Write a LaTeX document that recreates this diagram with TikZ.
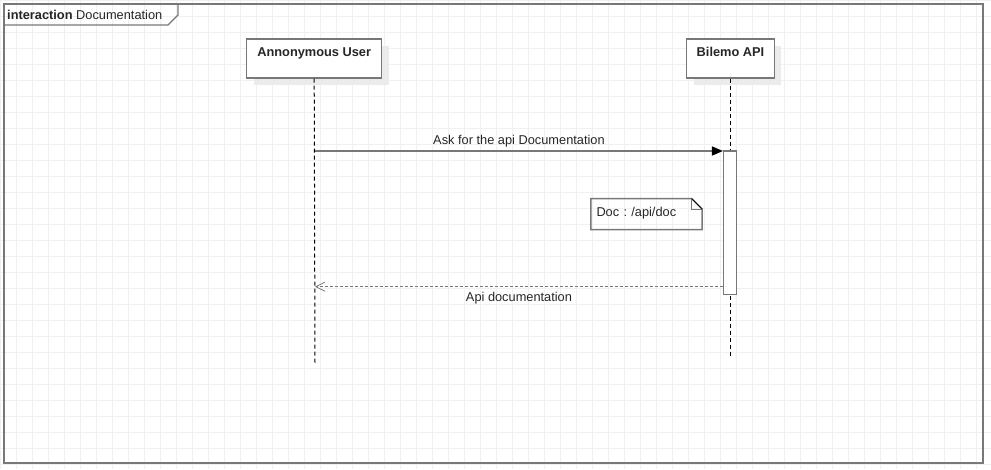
\documentclass[tikz,border=0pt]{standalone}
\usepackage{fontspec}
\setmainfont{Liberation Sans}
\usepackage{tikz}
\usetikzlibrary{positioning, backgrounds, arrows.meta, shadows}
\definecolor{umlgray}{HTML}{787878}
\definecolor{gridgray}{HTML}{F0F0F0}
\definecolor{shadowgray}{HTML}{EBEBEB}
\frenchspacing
\tikzstyle{lifebox} = [rectangle, draw=umlgray, line width=1.5pt, fill=white,
                 font=\fontsize{12.8}{15}\selectfont\bfseries,
                 text height=16pt, text depth=19pt, inner ysep=2pt,
                 drop shadow={shadow xshift=7pt, shadow yshift=-7pt, fill=shadowgray, opacity=1}]
\tikzstyle{lifeline} = [draw=black, line width=1pt, dash pattern=on 4pt off 3pt]
\tikzset{
	gridline/.style={draw=gridgray, line width=1pt},
	frameline/.style={draw=umlgray, line width=1.8pt},
	activation/.style={rectangle, draw=umlgray, line width=1.5pt, fill=white,
		minimum width=13pt, minimum height=143.3pt, inner sep=0pt},
	notebox/.style={text width=100pt, align=left, inner xsep=5.5pt,
		minimum height=30.6pt, text depth=4.5pt},
	noteline/.style={draw=umlgray, line width=1.5pt, line join=miter},
	call/.style={draw=umlgray, line width=1.5pt,
		-{Triangle[length=11pt, width=9pt, color=black, fill=black]}},
	reply/.style={draw=umlgray, line width=1.3pt, dash pattern=on 3pt off 2pt,
		-{Straight Barb[length=9pt, width=9pt, line width=0.8pt]}},
}

\begin{document}
\begin{tikzpicture}[x=1pt, y=-1pt,
	every node/.style={text=black!85, font=\fontsize{12.8}{15}\selectfont}]

\useasboundingbox (0,0) rectangle (991,469);
\fill [white] (0,0) rectangle (991,469);

	%grid
\foreach \gx in {0,16,...,976}
	\draw [gridline] (\gx,0) -- (\gx,469);
\foreach \gy in {0,16,...,464}
	\draw [gridline] (0,\gy) -- (991,\gy);

\draw [frameline] (4,4) rectangle (983,463);
\draw [frameline, line width=1.4pt] (4,25) -- (168,25) -- (178,15) -- (178,4);
\node [anchor=west, inner sep=0pt] at (7,15) (title) {\textbf{interaction} Documentation};

\node [lifebox, minimum width=135pt] at (314.2,58.3) (user) {Annonymous User};
\node [lifebox, minimum width=87.6pt] at (730.5,58.3) (api) {Bilemo API};

\coordinate (user end) at (315,363.3);
\coordinate (api end) at (730.5,357.7);
\path [lifeline] (user.south) -- (user end);
\path [lifeline] (api.south) -- (api end);

\node [activation] at (730.2,222.65) (act) {};

\coordinate (user call) at (315,151);
\coordinate (user reply) at (315,286.7);
\coordinate (api reply) at (act.south west |- user reply);

\draw [call] (user call) -- node [above] {Ask for the api Documentation} (act.north west |- user call);
\draw [reply] (api reply) -- node [below=2pt] {Api documentation} (user reply);

\node [notebox] at (646.5,214) (doc) {Doc : /api/doc};
\draw [noteline] (doc.north west) -- ([xshift=-10.6pt]doc.north east)
	-- ([yshift=-10.6pt]doc.north east) -- (doc.south east) -- (doc.south west) -- cycle;
\draw [draw=umlgray, line width=1pt] ([xshift=-10.6pt]doc.north east) |- ([yshift=-10.6pt]doc.north east);
\draw [draw=black, line width=0.8pt] ([xshift=-10.6pt]doc.north east) -- ([yshift=-10.6pt]doc.north east);

\end{tikzpicture}
\end{document}
